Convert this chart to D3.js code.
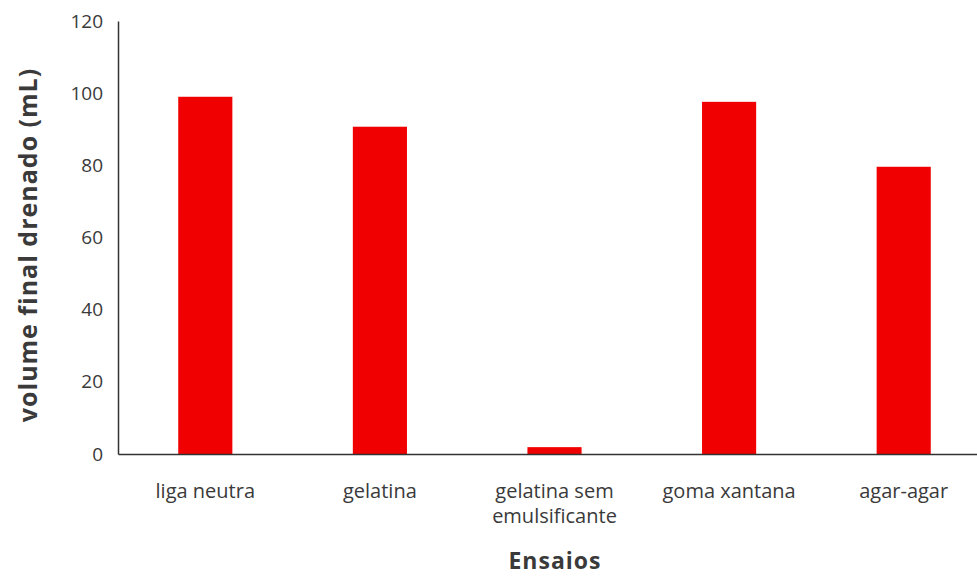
<!DOCTYPE html>
<html>
<head>
<meta charset="utf-8">
<script src="https://cdn.jsdelivr.net/npm/d3@7"></script>
<style>
  html, body { margin: 0; padding: 0; background: #fff; }
  svg { display: block; }
  text { font-family: "Open Sans", "Noto Sans", sans-serif; fill: #3a3a3a; }
</style>
</head>
<body>
<svg id="chart" width="977" height="576"></svg>
<script>
// Ensaios e volume final drenado (mL)
const categories = [["liga neutra"], ["gelatina"], ["gelatina sem", "emulsificante"], ["goma xantana"], ["agar-agar"]];
const values = [99, 90.7, 1.9, 97.6, 79.6];
const yTicks = [0, 20, 40, 60, 80, 100, 120];

const svg = d3.select("#chart");
const plotLeft = 118, plotRight = 991, plotTop = 21, plotBottom = 454;

const keys = categories.map(c => c.join(" "));
const x = d3.scaleBand().domain(keys).range([plotLeft, plotRight]).paddingInner(0.69).paddingOuter(0.345);
const y = d3.scaleLinear().domain([0, 120]).range([plotBottom, plotTop]);

// bars
svg.append("g").selectAll("rect").data(values).join("rect")
  .attr("x", (d, i) => x(keys[i]))
  .attr("y", d => y(d))
  .attr("width", x.bandwidth())
  .attr("height", d => y(0) - y(d))
  .attr("fill", "#f00000");

// y axis
const yAxis = d3.axisLeft(y).tickValues(yTicks).tickSize(0).tickPadding(15);
const gy = svg.append("g").attr("transform", `translate(${plotLeft},0)`).call(yAxis);
gy.select(".domain").attr("stroke", "#333").attr("stroke-width", 1.5);
gy.selectAll(".tick text").style("font-size", "19px").attr("fill", "#3a3a3a");

// x axis
const xAxis = d3.axisBottom(x).tickSize(0).tickFormat(() => "");
const gx = svg.append("g").attr("transform", `translate(0,${plotBottom})`).call(xAxis);
gx.select(".domain").attr("stroke", "#333").attr("stroke-width", 1.5);

// category labels (multi-line)
svg.append("g").selectAll("text").data(categories).join("text")
  .attr("x", (d, i) => x(keys[i]) + x.bandwidth() / 2)
  .attr("y", 498)
  .attr("text-anchor", "middle")
  .style("font-size", "20px")
  .each(function(lines) {
    const cx = d3.select(this).attr("x");
    d3.select(this).selectAll("tspan").data(lines).join("tspan")
      .attr("x", cx)
      .attr("dy", (d, j) => j === 0 ? 0 : 25)
      .text(d => d);
  });

// axis titles
svg.append("text")
  .attr("x", 555).attr("y", 569)
  .attr("text-anchor", "middle")
  .style("font-size", "23px").style("font-weight", "bold").style("letter-spacing", "1px")
  .attr("fill", "#1a1a1a")
  .text("Ensaios");

svg.append("text")
  .attr("transform", "translate(37,245) rotate(-90)")
  .attr("text-anchor", "middle")
  .style("font-size", "25px").style("font-weight", "bold").style("letter-spacing", "1px")
  .attr("fill", "#1a1a1a")
  .text("volume final drenado (mL)");
</script>
</body>
</html>
